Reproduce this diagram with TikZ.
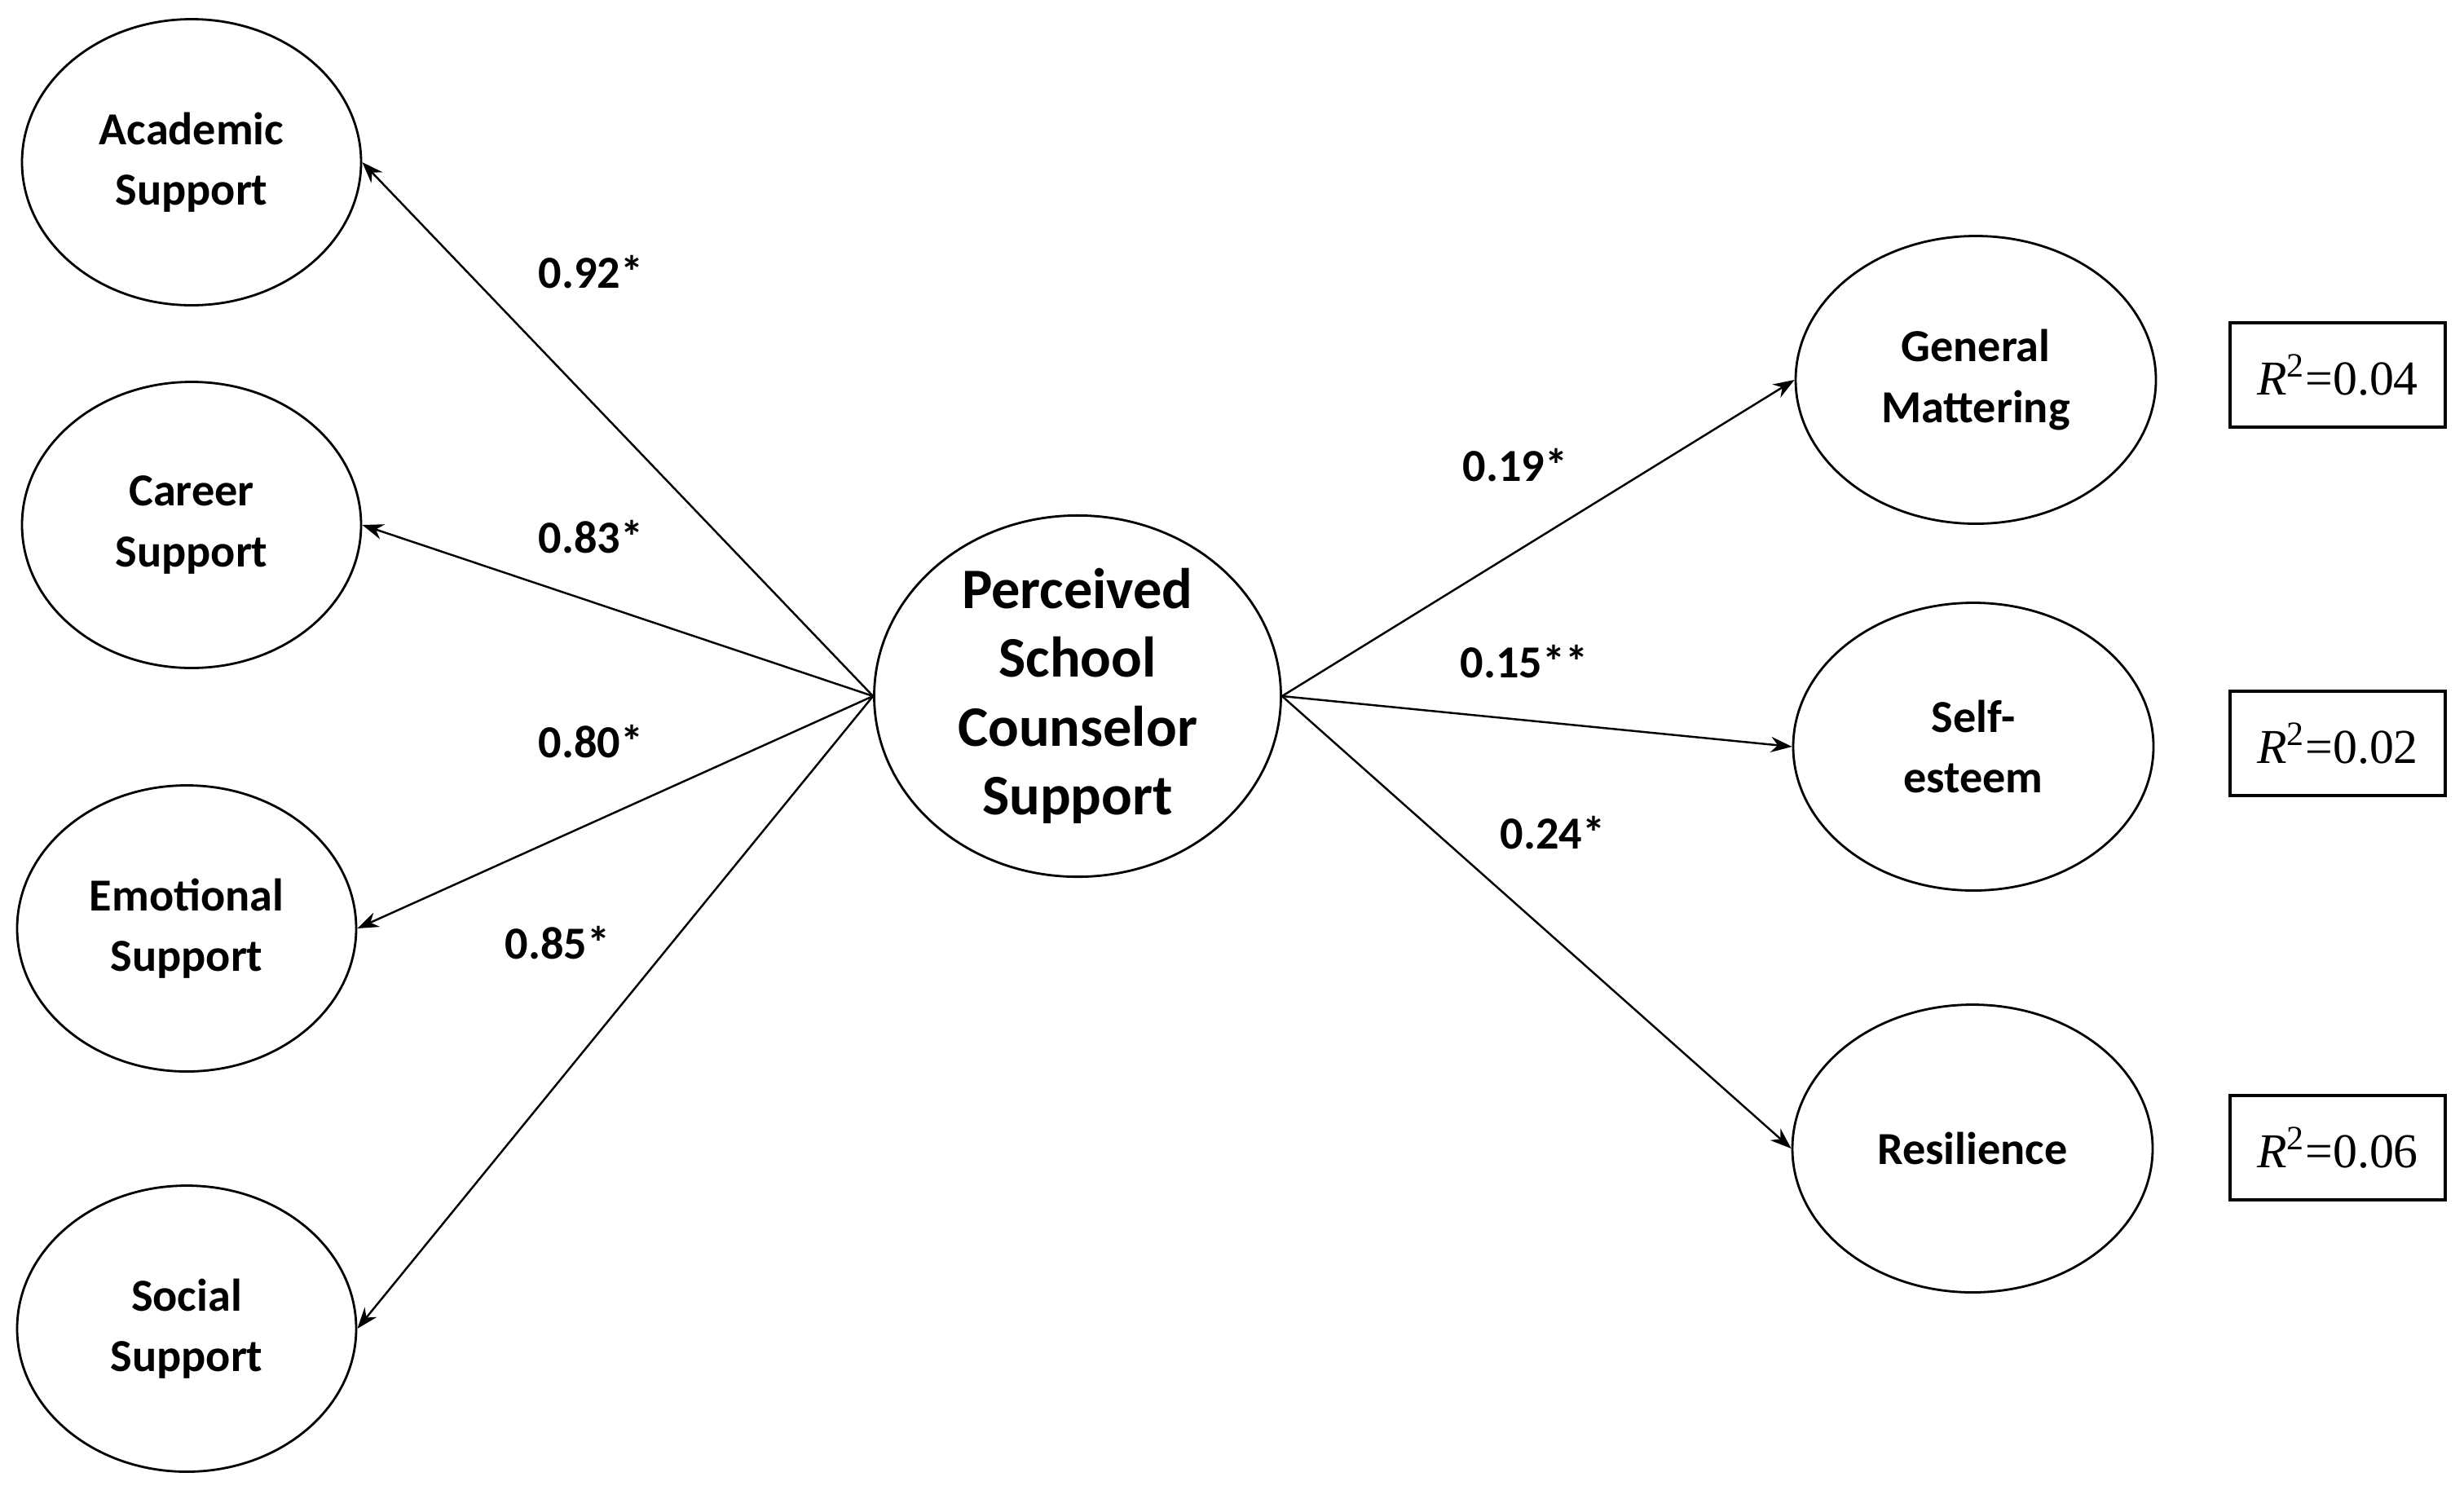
\documentclass[tikz,border=0pt]{standalone}
\usepackage{fontspec}
\setmainfont{Carlito}
\newfontfamily\tnr{Liberation Serif}
\usetikzlibrary{shapes.geometric,arrows.meta}
\begin{document}
\begin{tikzpicture}[
  latent/.style={ellipse, draw, line width=0.8pt, inner sep=0pt, align=center,
    font=\bfseries\fontsize{16}{21.2}\selectfont},
  leftlat/.style={latent, minimum width=4.16cm, minimum height=3.51cm},
  rightlat/.style={latent, minimum width=4.42cm, minimum height=3.53cm},
  mainlat/.style={latent, minimum width=4.99cm, minimum height=4.2cm,
    font=\bfseries\fontsize{20}{24}\selectfont},
  path/.style={line width=0.7pt, -{Stealth[length=0.26cm, width=0.19cm]}},
  coef/.style={font=\bfseries\fontsize{16}{19}\selectfont, inner sep=1pt},
  rbox/.style={draw, line width=1.2pt, minimum width=2.64cm, minimum height=1.28cm,
    inner sep=0pt, font=\tnr\fontsize{17}{20}\selectfont}
]
\useasboundingbox (0,0) rectangle (30.23,-18.38);

\node[leftlat] (acad) at (2.35,-1.99) {Academic\\Support};
\node[leftlat] (career) at (2.35,-6.44) {Career\\Support};
\node[leftlat] (emot) at (2.29,-11.39) {Emotional\\Support};
\node[leftlat] (social) at (2.29,-16.30) {Social\\Support};

\node[mainlat] (pscs) at (13.22,-8.54) {Perceived\\School\\Counselor\\Support};

\node[rightlat] (gm) at (24.24,-4.66) {General\\Mattering};
\node[rightlat] (se) at (24.21,-9.16) {Self-\\esteem};
\node[rightlat] (res) at (24.20,-14.09) {Resilience};

\node[rbox] (r1) at (28.68,-4.60) {\textit{R}\textsuperscript{2}=0.04};
\node[rbox] (r2) at (28.68,-9.12) {\textit{R}\textsuperscript{2}=0.02};
\node[rbox] (r3) at (28.68,-14.08) {\textit{R}\textsuperscript{2}=0.06};

\draw[path] (pscs.west) -- (acad.east);
\draw[path] (pscs.west) -- (career.east);
\draw[path] (pscs.west) -- (emot.east);
\draw[path] (pscs.west) -- (social.east);
\draw[path] (pscs.east) -- (gm.west);
\draw[path] (pscs.east) -- (se.west);
\draw[path] (pscs.east) -- (res.west);

\node[coef] (c1) at (7.25,-3.34) {0.92*};
\node[coef] (c2) at (7.25,-6.59) {0.83*};
\node[coef] (c3) at (7.25,-9.10) {0.80*};
\node[coef] (c4) at (6.84,-11.57) {0.85*};
\node[coef] (c5) at (18.59,-5.71) {0.19*};
\node[coef] (c6) at (18.70,-8.12) {0.15**};
\node[coef] (c7) at (19.05,-10.22) {0.24*};
\end{tikzpicture}
\end{document}
